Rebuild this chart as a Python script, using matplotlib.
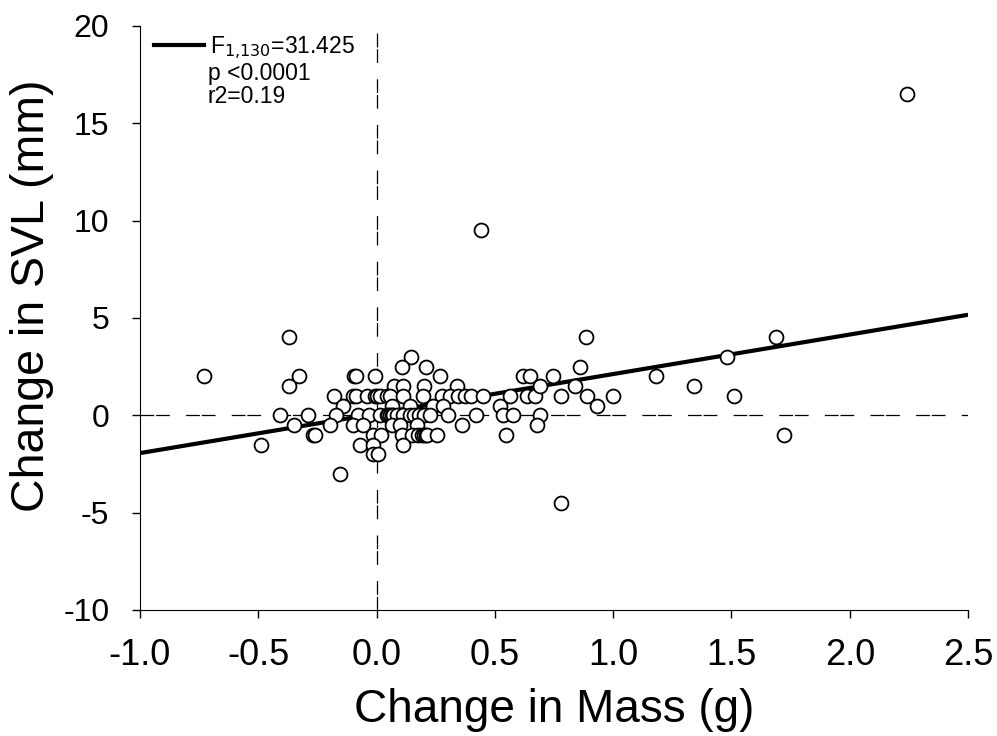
import numpy as np
import matplotlib
matplotlib.use("Agg")
import matplotlib.pyplot as plt
from matplotlib.lines import Line2D

plt.rcParams['font.family'] = ['Liberation Sans', 'DejaVu Sans']
plt.rcParams['axes.unicode_minus'] = False

# change in mass (g) and change in SVL (mm)
mass = [-0.73, -0.49, -0.41, -0.37, -0.37, -0.33, -0.35, -0.29, -0.27, -0.26, -0.155,
        # cluster round zero
        -0.095, -0.085, -0.007, 0.268,
        0.144,
        0.106, 0.209,
        0.074, 0.11, 0.20, 0.34,
        -0.18, -0.10, -0.085, -0.04, -0.007, 0.0, 0.015, 0.045, 0.057, 0.11, 0.197, 0.277,
        0.31, 0.345, 0.375, 0.40, 0.45,
        -0.14, 0.065, 0.14, 0.24, 0.28,
        -0.17, -0.08, -0.03, 0.015, 0.045, 0.05, 0.056, 0.065, 0.07, 0.085, 0.11, 0.14,
        0.16, 0.18, 0.2, 0.225, 0.30, 0.42,
        -0.197, -0.1, -0.057, 0.065, 0.1, 0.17, 0.36,
        -0.015, 0.02, 0.106, 0.15, 0.175, 0.19, 0.2, 0.21, 0.215, 0.255,
        -0.07, -0.015, 0.11,
        -0.015, 0.005,
        # right hand side
        0.44, 0.52, 0.535, 0.547, 0.565, 0.575, 0.62, 0.634, 0.65, 0.67, 0.69, 0.69,
        0.68, 0.746, 0.78, 0.78, 0.84, 0.86, 0.885, 0.89, 0.93, 1.0, 1.18, 1.34, 1.48,
        1.51, 1.69, 1.72, 2.24]
svl = [2.0, -1.5, 0.0, 4.0, 1.5, 2.0, -0.5, 0.0, -1.0, -1.0, -3.0,
       2.0, 2.0, 2.0, 2.0,
       3.0,
       2.5, 2.5,
       1.5, 1.5, 1.5, 1.5,
       1.0, 1.0, 1.0, 1.0, 1.0, 1.0, 1.0, 1.0, 1.0, 1.0, 1.0, 1.0,
       1.0, 1.0, 1.0, 1.0, 1.0,
       0.5, 0.5, 0.5, 0.5, 0.5,
       0.0, 0.0, 0.0, 0.0, 0.0, 0.0, 0.0, 0.0, 0.0, 0.0, 0.0, 0.0,
       0.0, 0.0, 0.0, 0.0, 0.0, 0.0,
       -0.5, -0.5, -0.5, -0.5, -0.5, -0.5, -0.5,
       -1.0, -1.0, -1.0, -1.0, -1.0, -1.0, -1.0, -1.0, -1.0, -1.0,
       -1.5, -1.5, -1.5,
       -2.0, -2.0,
       9.5, 0.5, 0.0, -1.0, 1.0, 0.0, 2.0, 1.0, 2.0, 1.0, 1.5, 0.0,
       -0.5, 2.0, 1.0, -4.5, 1.5, 2.5, 4.0, 1.0, 0.5, 1.0, 2.0, 1.5, 3.0,
       1.0, 4.0, -1.0, 16.5]

# regression line (SVL = a + b * mass)
fit_x = [-1.0, 2.5]
intercept = 0.09
slope = 2.03

xticks = [-1.0, -0.5, 0.0, 0.5, 1.0, 1.5, 2.0, 2.5]
yticks = [-10, -5, 0, 5, 10, 15, 20]

fig = plt.figure(figsize=(9.97, 7.36), dpi=100)
ax = fig.add_axes([0.1404, 0.1712, 0.8306, 0.7935])

dash = (0, (11, 1.5, 11, 13))
ax.axhline(0, color='black', lw=0.9, ls=dash, zorder=1)
ax.axvline(0, color='black', lw=0.9, ls=dash, zorder=1)

fit_y = [intercept + slope * v for v in fit_x]
ax.plot(fit_x, fit_y, color='black', lw=3, zorder=2, solid_capstyle='butt')

ax.plot(mass, svl, 'o', ms=10, mfc='white', mec='black', mew=1.3, ls='none', zorder=3)

ax.set_xlim(-1.0, 2.5)
ax.set_ylim(-10, 20)
ax.set_xticks(xticks)
ax.set_xticklabels(['%.1f' % t for t in xticks])
ax.set_yticks(yticks)
ax.tick_params(direction='out', length=6, width=1)
ax.tick_params(axis='x', labelsize=26, pad=14)
ax.tick_params(axis='y', labelsize=23, pad=16)
for s in ['top', 'right']:
    ax.spines[s].set_visible(False)

ax.set_xlabel('Change in Mass (g)', fontsize=33, labelpad=11)
ax.set_ylabel('Change in SVL (mm)', fontsize=33.5)
ax.yaxis.set_label_coords(-0.104, 0.538)

# statistics box: regression line key plus the test results
handles = [Line2D([], [], color='black', lw=3)]
ax.legend(handles, ['F$_{1{,}130}$=31.425'], loc='upper left', frameon=False,
          fontsize=16.5, handlelength=2.2, handletextpad=0.25,
          borderaxespad=0.2, bbox_to_anchor=(0.0, 1.01))
ax.text(0.0821, 0.868, 'p <0.0001\nr2=0.19', transform=ax.transAxes,
        fontsize=16.5, va='baseline', ha='left', linespacing=1.0)

fig.savefig('out.png', dpi=100)
